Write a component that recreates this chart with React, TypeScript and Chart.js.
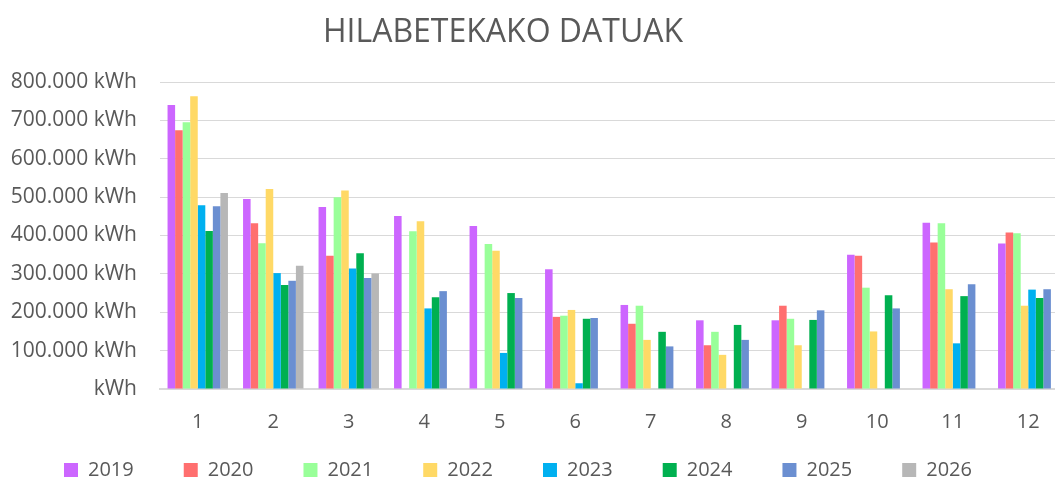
import React, { useEffect, useRef } from "react";
import { Chart, registerables } from "chart.js";

Chart.register(...registerables);

const months = ["1", "2", "3", "4", "5", "6", "7", "8", "9", "10", "11", "12"];
const years = ["2019", "2020", "2021", "2022", "2023", "2024", "2025", "2026"];
const colors = ["#CC66FF", "#FF6F6F", "#99FF99", "#FFD966", "#00B0F0", "#00B050", "#6B8FD1", "#B7B7B7"];

const v2019 = [740000, 495000, 474000, 451000, 425000, 312000, 219000, 179000, 179000, 350000, 433000, 379000];
const v2020 = [674000, 432000, 347000, null, null, 188000, 170000, 114000, 217000, 347000, 382000, 408000];
const v2021 = [695000, 380000, 500000, 411000, 378000, 191000, 217000, 149000, 183000, 264000, 432000, 406000];
const v2022 = [763000, 521000, 517000, 437000, 360000, 206000, 128000, 89000, 114000, 150000, 260000, 217000];
const v2023 = [479000, 302000, 314000, 210000, 94000, 15000, null, null, null, null, 119000, 259000];
const v2024 = [412000, 271000, 354000, 239000, 250000, 183000, 149000, 167000, 180000, 244000, 242000, 237000];
const v2025 = [476000, 282000, 289000, 255000, 237000, 185000, 111000, 128000, 205000, 210000, 273000, 260000];
const v2026 = [511000, 321000, 301000, null, null, null, null, null, null, null, null, null];

const seriesValues = [v2019, v2020, v2021, v2022, v2023, v2024, v2025, v2026];
const titleText = "HILABETEKAKO DATUAK";
const textColor = "#595959";
const fontFamily = "'Open Sans', 'DejaVu Sans', sans-serif";

function formatKwh(value: number): string {
  if (value === 0) return "kWh";
  const s = Math.round(value).toString().replace(/\B(?=(\d{3})+(?!\d))/g, ".");
  return s + " kWh";
}

const titlePlugin = {
  id: "customTitle",
  afterDraw(chart: any) {
    const ctx = chart.ctx;
    ctx.save();
    ctx.font = `32px ${fontFamily}`;
    ctx.fillStyle = textColor;
    ctx.textAlign = "center";
    ctx.textBaseline = "middle";
    ctx.fillText(titleText, 503, 33);
    ctx.restore();
  },
};

// nudges the legend's drawing origin so its items sit where the reference has them
const legendShiftPlugin = {
  id: "legendShift",
  afterLayout(chart: any) {
    const lg = chart.legend;
    if (!lg) return;
    lg.top -= 25;
    lg.height += 25;
    lg.left += 14;
    lg.right += 14;
  },
};

export default function App() {
  const ref = useRef<HTMLCanvasElement>(null);

  useEffect(() => {
    if (!ref.current) return;
    const chart = new Chart(ref.current, {
      type: "bar",
      data: {
        labels: months,
        datasets: years.map((y, i) => ({
          label: y,
          data: seriesValues[i],
          backgroundColor: colors[i],
          borderWidth: 0,
          categoryPercentage: 0.8,
          barPercentage: 1.0,
        })),
      },
      options: {
        responsive: false,
        animation: false,
        layout: { padding: { top: 82, right: 0, left: 0, bottom: 0 } },
        plugins: {
          title: { display: false },
          tooltip: { enabled: false },
          legend: {
            position: "bottom",
            align: "start",
            maxHeight: 47,
            labels: {
              color: textColor,
              font: { family: fontFamily, size: 20 },
              boxWidth: 14,
              boxHeight: 14,
              padding: 50,
            },
          },
        },
        scales: {
          x: {
            grid: { display: false, drawTicks: false },
            border: { color: "#D9D9D9", width: 2 },
            ticks: {
              color: textColor,
              font: { family: fontFamily, size: 20 },
              padding: 21,
            },
            afterFit: (scale: any) => {
              scale.height = 46;
            },
          },
          y: {
            min: 0,
            max: 800000,
            grid: { color: "#D9D9D9", lineWidth: 1, drawTicks: false },
            border: { display: false },
            ticks: {
              stepSize: 100000,
              color: textColor,
              font: { family: fontFamily, size: 21 },
              padding: 23,
              callback: (v: any) => formatKwh(Number(v)),
            },
            afterFit: (scale: any) => {
              scale.width = 160;
            },
          },
        },
      },
      plugins: [titlePlugin, legendShiftPlugin],
    });
    return () => chart.destroy();
  }, []);

  return (
    <div style={{ position: "fixed", left: 0, top: 0, width: 1055, height: 482, overflow: "hidden", background: "#fff" }}>
      <canvas ref={ref} width={1066} height={482} style={{ display: "block" }} />
    </div>
  );
}
